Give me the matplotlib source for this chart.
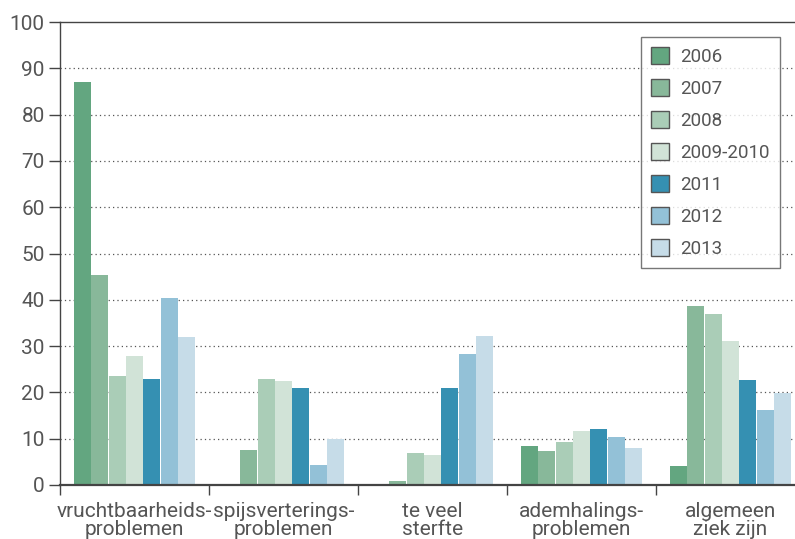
import matplotlib
matplotlib.use("Agg")
import matplotlib.pyplot as plt
import numpy as np

categories = [
    "vruchtbaarheids-\nproblemen",
    "spijsverterings-\nproblemen",
    "te veel\nsterfte",
    "ademhalings-\nproblemen",
    "algemeen\nziek zijn",
]
years = ["2006", "2007", "2008", "2009-2010", "2011", "2012", "2013"]
colors = ["#63a680", "#88b89a", "#aacdb7", "#d1e3d7", "#3590b2", "#93c1d7", "#c6dce8"]

v2006 = [87.0, 0.0, 0.0, 8.5, 4.2]
v2007 = [45.3, 7.5, 0.8, 7.4, 38.6]
v2008 = [23.6, 22.8, 7.0, 9.3, 36.9]
v2009_2010 = [27.9, 22.5, 6.4, 11.7, 31.0]
v2011 = [22.8, 21.0, 21.0, 12.1, 22.7]
v2012 = [40.3, 4.3, 28.3, 10.3, 16.3]
v2013 = [32.0, 9.9, 32.1, 7.9, 19.8]
series = [v2006, v2007, v2008, v2009_2010, v2011, v2012, v2013]

yticks = list(range(0, 101, 10))

text_color = "#555555"
plt.rcParams["font.family"] = ["Roboto", "DejaVu Sans"]

fig = plt.figure(figsize=(7.95, 5.39), dpi=100)
ax = fig.add_axes([60 / 795, 1 - 485 / 539, 745 / 795, 463 / 539])

n = len(years)
group_w = 0.82
bw = group_w / n
centers = np.arange(len(categories)) + 0.5
for i, (yr, vals, c) in enumerate(zip(years, series, colors)):
    x = centers - group_w / 2 + bw * (i + 0.5)
    ax.bar(x, vals, bw * 0.97, color=c, linewidth=0, label=yr, zorder=2)

ax.set_xlim(0, 5)
ax.set_ylim(0, 100)
ax.set_yticks(yticks)
for y in yticks[1:-1]:
    ax.axhline(y, color="#555555", linestyle=(0, (1, 2.5)), linewidth=0.9,
               zorder=1)

ax.set_xticks(range(5))
ax.set_xticklabels([])
ax.set_xticks(centers, minor=True)
ax.set_xticklabels(categories, minor=True, fontsize=15, color=text_color,
                   linespacing=0.95)
ax.tick_params(axis="x", which="major", length=7, width=1, color="#444444",
               direction="out")
ax.tick_params(axis="x", which="minor", length=0, pad=12)
ax.tick_params(axis="y", length=8, width=1, color="#444444", labelsize=15,
               labelcolor=text_color, pad=3)

for s in ["left", "bottom", "top"]:
    ax.spines[s].set_color("#444444")
ax.spines["left"].set_linewidth(1.0)
ax.spines["bottom"].set_linewidth(1.6)
ax.spines["top"].set_linewidth(1.0)
ax.spines["right"].set_visible(False)

leg = ax.legend(loc="upper left", bbox_to_anchor=(581 / 745, 1 - 15 / 463),
                frameon=True, fancybox=False, fontsize=13.5,
                labelcolor=text_color, handlelength=0.95, handleheight=1.0,
                handletextpad=0.6, labelspacing=0.7, borderpad=0.55,
                borderaxespad=0)
leg.get_frame().set_edgecolor("#555555")
leg.get_frame().set_linewidth(1.0)
for h in leg.legend_handles:
    h.set_edgecolor("#555555")
    h.set_linewidth(1.0)

fig.savefig("out.png", dpi=100)
